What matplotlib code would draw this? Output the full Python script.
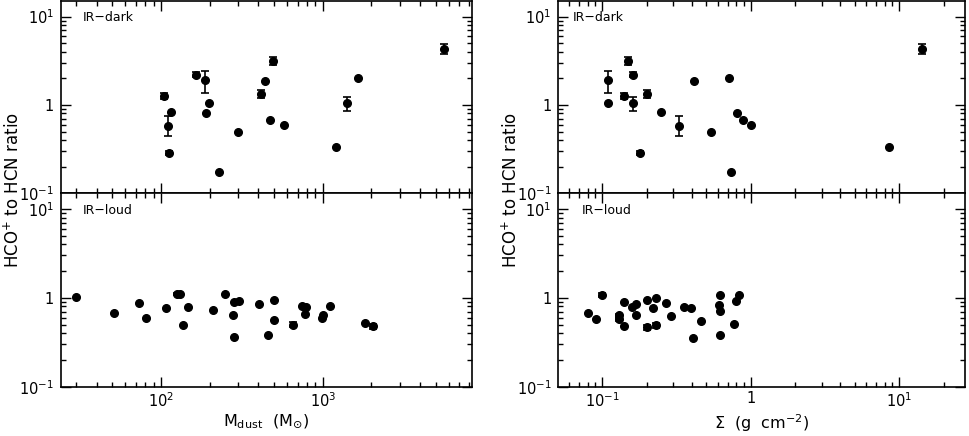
import matplotlib
matplotlib.use("Agg")
import matplotlib.pyplot as plt
import matplotlib.ticker as mticker
import numpy as np

# IR-dark clumps (same objects in both columns)
m_dark = [105, 111, 112, 115, 164, 186, 189, 199, 230, 299, 417, 440, 474, 491, 580, 1205, 1406, 1652, 5650]
sig_dark = [0.141, 0.327, 0.179, 0.249, 0.160, 0.110, 0.811, 0.110, 0.732, 0.542, 0.201, 0.417, 0.885, 0.150, 1.00, 8.57, 0.160, 0.717, 14.2]
ratio_dark = [1.26, 0.58, 0.284, 0.84, 2.2, 1.9, 0.805, 1.045, 0.173, 0.495, 1.32, 1.88, 0.67, 3.13, 0.60, 0.33, 1.045, 2.04, 4.27]
errm_dark = [0.09, 0.13, 0.014, 0, 0.13, 0.52, 0, 0, 0, 0, 0.13, 0, 0, 0.31, 0, 0, 0.19, 0, 0.52]
errp_dark = [0.10, 0.16, 0.016, 0, 0.14, 0.55, 0, 0, 0, 0, 0.15, 0, 0, 0.34, 0, 0, 0.195, 0, 0.61]

# IR-loud clumps vs dust mass
m_loud = [29.9, 51.4, 73.5, 81.1, 108, 126, 132, 137, 148, 209, 248, 279, 282, 284, 303, 402, 459, 500, 500,
          652, 745, 788, 774, 986, 1004, 1110, 1828, 2038]
ratio_loud_m = [1.02, 0.68, 0.87, 0.60, 0.776, 1.10, 1.10, 0.494, 0.78, 0.73, 1.10, 0.647, 0.358, 0.90, 0.925,
                0.861, 0.384, 0.95, 0.568, 0.50, 0.818, 0.797, 0.659, 0.593, 0.647, 0.812, 0.521, 0.477]
err_loud_m = [0, 0, 0, 0, 0, 0.03, 0.03, 0, 0, 0, 0, 0, 0, 0, 0, 0, 0, 0, 0, 0.035, 0, 0, 0, 0, 0, 0, 0, 0.03]

# IR-loud clumps vs surface density
sig_loud = [0.0797, 0.0903, 0.100, 0.130, 0.130, 0.140, 0.140, 0.159, 0.169, 0.169, 0.199, 0.199, 0.219, 0.229,
            0.229, 0.269, 0.289, 0.357, 0.397, 0.408, 0.465, 0.614, 0.623, 0.623, 0.623, 0.771, 0.795, 0.828]
ratio_loud_s = [0.67, 0.583, 1.08, 0.635, 0.573, 0.90, 0.482, 0.79, 0.847, 0.641, 0.94, 0.464, 0.763, 0.99,
                0.49, 0.87, 0.63, 0.79, 0.763, 0.349, 0.553, 0.84, 1.07, 0.71, 0.377, 0.508, 0.916, 1.07]
err_loud_s = [0, 0, 0.05, 0.02, 0.02, 0, 0, 0, 0, 0, 0, 0.025, 0, 0, 0.03, 0, 0, 0, 0, 0, 0, 0, 0, 0, 0, 0, 0, 0]

W, H = 970, 436
fig = plt.figure(figsize=(W / 100, H / 100), dpi=100)


def box(x0, x1, y_top, y_bot):
    return [x0 / W, 1 - y_bot / H, (x1 - x0) / W, (y_bot - y_top) / H]


def logfmt(v, pos):
    e = int(round(np.log10(v)))
    if e == 0:
        return "1"
    return r"10$^{%d}$" % e


def style(ax, xlim, show_x):
    ax.set_xscale("log")
    ax.set_yscale("log")
    ax.set_xlim(*xlim)
    ax.set_ylim(0.1, 15.0)
    ax.tick_params(which="both", direction="in", top=True, right=True, width=1.0)
    ax.tick_params(which="major", length=7, labelsize=10.5)
    ax.tick_params(axis="x", which="major", pad=3)
    ax.tick_params(axis="y", which="major", pad=5)
    ax.tick_params(which="minor", length=3.5)
    for axis in (ax.xaxis, ax.yaxis):
        axis.set_major_locator(mticker.LogLocator(base=10, numticks=10))
        axis.set_minor_locator(mticker.LogLocator(base=10, subs=np.arange(2, 10), numticks=20))
        axis.set_major_formatter(mticker.FuncFormatter(logfmt))
        axis.set_minor_formatter(mticker.NullFormatter())
    if not show_x:
        ax.tick_params(axis="x", which="both", labelbottom=False)
    for s in ax.spines.values():
        s.set_linewidth(1.2)


def draw(ax, x, y, em, ep):
    x = np.array(x)
    y = np.array(y)
    em = np.array(em)
    ep = np.array(ep)
    ax.plot(x, y, "o", color="black", markersize=5.5, zorder=3)
    sel = (em > 0) | (ep > 0)
    ax.errorbar(x[sel], y[sel], yerr=[em[sel], ep[sel]], fmt="none", ecolor="black",
                elinewidth=1.2, capsize=2.8, capthick=1.2, zorder=2)


xl_m = (24.1, 8340)
xl_s = (0.0506, 27.7)

ax1 = fig.add_axes(box(61, 471.7, 1, 193.3))
ax2 = fig.add_axes(box(61, 471.7, 193.3, 386.7))
ax3 = fig.add_axes(box(558.3, 965, 1, 193.3))
ax4 = fig.add_axes(box(558.3, 965, 193.3, 386.7))

style(ax1, xl_m, False)
style(ax2, xl_m, True)
style(ax3, xl_s, False)
style(ax4, xl_s, True)

draw(ax1, m_dark, ratio_dark, errm_dark, errp_dark)
draw(ax2, m_loud, ratio_loud_m, err_loud_m, err_loud_m)
draw(ax3, sig_dark, ratio_dark, errm_dark, errp_dark)
draw(ax4, sig_loud, ratio_loud_s, err_loud_s, err_loud_s)

ax1.text(22 / 410.7, 1 - 16.3 / 192.3, "IR\u2212dark", transform=ax1.transAxes, fontsize=9, va="center")
ax2.text(22 / 410.7, 1 - 17.4 / 193.4, "IR\u2212loud", transform=ax2.transAxes, fontsize=9, va="center")
ax3.text(14.4 / 406.7, 1 - 16.3 / 192.3, "IR\u2212dark", transform=ax3.transAxes, fontsize=9, va="center")
ax4.text(23.4 / 406.7, 1 - 17.4 / 193.4, "IR\u2212loud", transform=ax4.transAxes, fontsize=9, va="center")

ax2.set_xlabel(r"M$_{\rm dust}$  (M$_{\odot}$)", fontsize=11.5, labelpad=2)
ax4.set_xlabel(r"$\Sigma$  (g  cm$^{-2}$)", fontsize=11.5, labelpad=2)

fig.text(13 / W, 1 - 190 / H, r"HCO$^{+}$ to HCN ratio", rotation=90, fontsize=12, ha="center", va="center")
fig.text(511 / W, 1 - 190 / H, r"HCO$^{+}$ to HCN ratio", rotation=90, fontsize=12, ha="center", va="center")

fig.savefig("out.png", dpi=100)
